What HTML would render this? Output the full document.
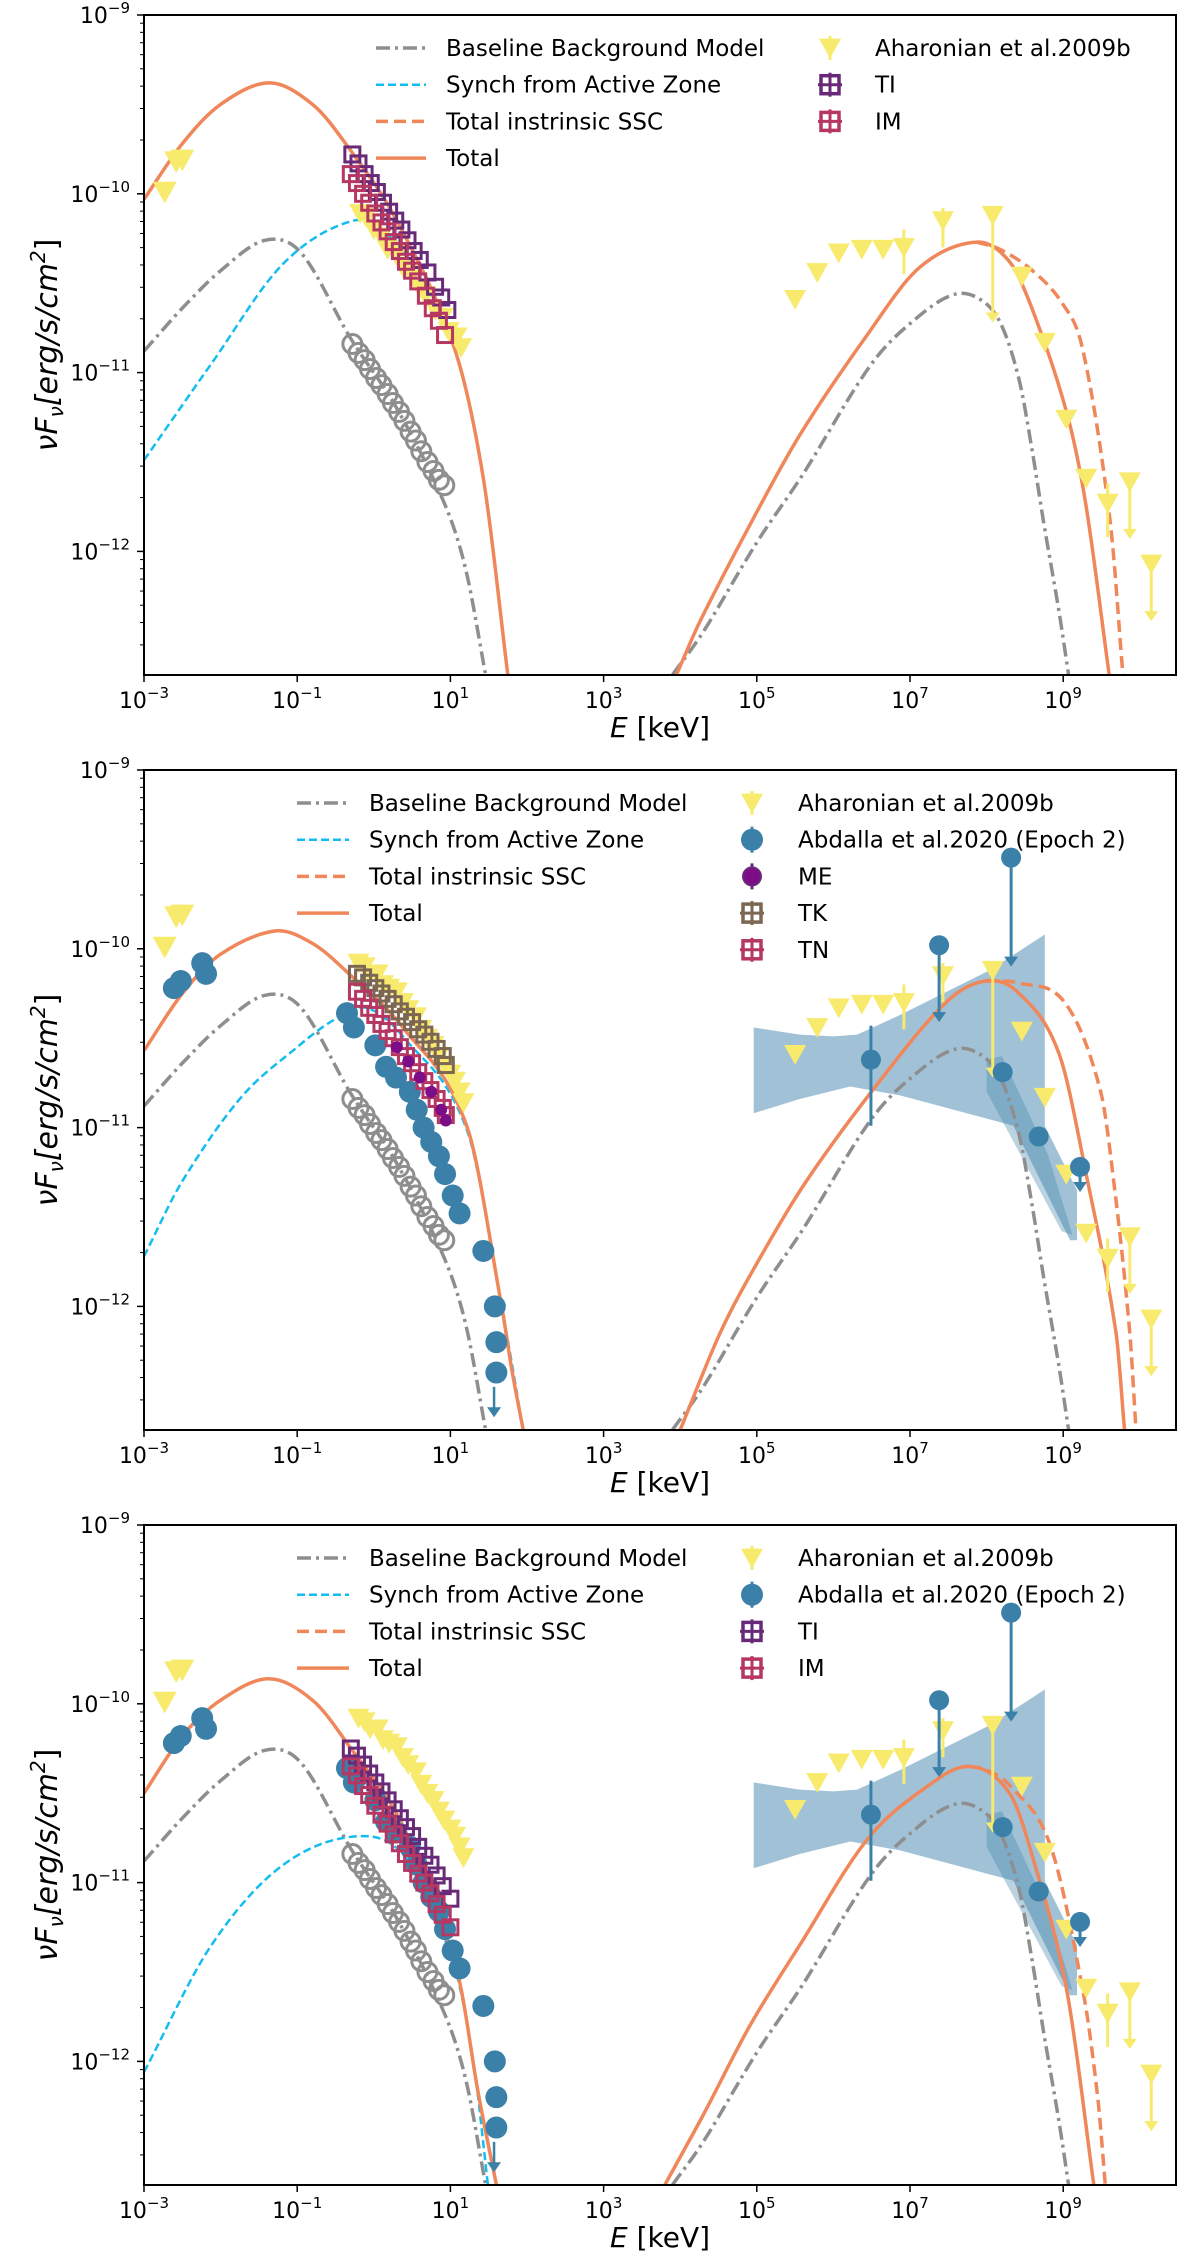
<!DOCTYPE html>
<html><head><meta charset="utf-8"><style>
html,body{margin:0;padding:0;background:#fff;}
svg{display:block;font-family:"DejaVu Sans","Liberation Sans",sans-serif;}
</style></head><body>
<svg id="chart" width="1200" height="2260" viewBox="0 0 1200 2260" xmlns="http://www.w3.org/2000/svg"></svg>
<script>
// ---------- data (log10 E [keV], log10 vFv) ----------
const grayE=[-3,-2.5,-2,-1.42,-0.95,-0.3,0.3,0.92,1.2,1.46];
const grayF=[-10.88,-10.64,-10.43,-10.26,-10.33,-10.81,-11.2,-11.73,-12.1,-12.69];
const grayGE=[3.9,4.3,5.0,5.6,6.5,7.1,7.6,7.95,8.2,8.43,8.6,8.75,8.95,9.07];
const grayGF=[-12.69,-12.45,-11.95,-11.57,-10.95,-10.69,-10.56,-10.6,-10.74,-11.05,-11.45,-11.85,-12.35,-12.69];

const p1TotE=[-3,-2.5,-2,-1.36,-0.8,-0.35,0.3,1.05,1.43,1.75];
const p1TotF=[-10.03,-9.72,-9.5,-9.38,-9.5,-9.73,-10.15,-10.86,-11.59,-12.69];
const p1CyE=[-3,-2.12,-1.18,-0.26,0.21,0.6,1.05,1.43,1.75];
const p1CyF=[-11.49,-10.95,-10.39,-10.15,-10.24,-10.45,-10.86,-11.59,-12.69];
const p1TgE=[3.95,4.26,4.9,5.56,6.44,7.13,7.87,8.3,8.6,9.05,9.3,9.6];
const p1TgF=[-12.69,-12.39,-11.86,-11.35,-10.79,-10.41,-10.27,-10.38,-10.65,-11.23,-11.75,-12.69];
const p1SsE=[7.87,8.17,8.6,9.0,9.26,9.61,9.78];
const p1SsF=[-10.27,-10.31,-10.43,-10.62,-10.88,-11.82,-12.69];

const p2TotE=[-3,-2.5,-2,-1.28,-0.8,-0.35,0.4,1.22,1.67,1.8,1.95];
const p2TotF=[-10.57,-10.25,-10.03,-9.9,-9.97,-10.13,-10.45,-11.0,-12.0,-12.35,-12.69];
const p2CyE=[-3,-2.5,-1.73,-1.0,-0.53,-0.1,0.4,1.22,1.67,1.95];
const p2CyF=[-11.72,-11.3,-10.83,-10.55,-10.4,-10.33,-10.5,-11.02,-12.0,-12.69];
const p2TgE=[4.0,4.52,5.0,5.63,6.55,7.47,7.98,8.4,8.94,9.31,9.69,9.8];
const p2TgF=[-12.69,-12.15,-11.76,-11.31,-10.77,-10.3,-10.18,-10.24,-10.58,-11.28,-12.15,-12.69];
const p2SsE=[7.98,8.4,9.02,9.49,9.69,9.87,9.95];
const p2SsF=[-10.18,-10.19,-10.3,-10.8,-11.41,-12.15,-12.69];

const p3TotE=[-3,-2.5,-2,-1.37,-0.8,-0.35,0.4,1.1,1.36,1.6];
const p3TotF=[-10.5,-10.18,-9.98,-9.86,-9.98,-10.22,-10.7,-11.52,-12.17,-12.69];
const p3CyE=[-3,-2.12,-1.18,-0.17,0.45,1.05,1.3,1.49];
const p3CyF=[-12.06,-11.35,-10.9,-10.74,-10.88,-11.47,-12.0,-12.69];
const p3TgE=[3.8,4.3,4.91,5.56,6.44,7.2,7.78,8.3,8.61,9.05,9.4];
const p3TgF=[-12.69,-12.3,-11.8,-11.35,-10.76,-10.47,-10.35,-10.5,-10.87,-11.61,-12.69];
const p3SsE=[7.78,8.0,8.31,8.83,9.26,9.45,9.55];
const p3SsF=[-10.35,-10.37,-10.46,-10.79,-11.61,-12.2,-12.69];

const yOptE=[-2.73,-2.58,-2.5];
const yOptF=[-9.99,-9.82,-9.81];
const yX1E=[-0.18,-0.1,0.0,0.1,0.18,0.3,0.38,0.5,0.6,0.68,0.8,0.9,0.98,1.08,1.14];
const yX1F=[-10.11,-10.13,-10.2,-10.24,-10.31,-10.34,-10.41,-10.45,-10.53,-10.57,-10.65,-10.69,-10.77,-10.8,-10.86];
const yX2E=[-0.2,-0.12,-0.05,0.05,0.12,0.2,0.3,0.38,0.45,0.55,0.62,0.7,0.78,0.85,0.92,1.0,1.06,1.12,1.17];
const yX2F=[-10.08,-10.1,-10.14,-10.14,-10.2,-10.22,-10.24,-10.3,-10.34,-10.38,-10.45,-10.5,-10.54,-10.6,-10.65,-10.7,-10.74,-10.8,-10.86];
const yGE=[5.5,5.79,6.07,6.37,6.65,6.92,7.43,8.08,8.46,8.76,9.04,9.3,9.58,9.87,10.15];
const yGF=[-10.59,-10.44,-10.33,-10.31,-10.31,-10.3,-10.15,-10.12,-10.46,-10.83,-11.26,-11.59,-11.73,-11.61,-12.07];
const yGLo=[null,null,null,null,null,-10.45,-10.3,-10.72,null,null,null,null,-11.92,-11.93,-12.39];
const yGHi=[null,null,null,null,null,-10.2,-10.08,null,null,null,null,null,-11.62,null,null];
const yGUl=[0,0,0,0,0,0,0,1,0,0,0,0,0,1,1];

const grayCE=[-0.28,-0.2,-0.12,-0.05,0.03,0.1,0.18,0.25,0.33,0.4,0.48,0.55,0.62,0.7,0.78,0.85,0.92];
const grayCF=[-10.84,-10.89,-10.93,-10.98,-11.03,-11.07,-11.12,-11.17,-11.22,-11.27,-11.33,-11.38,-11.44,-11.5,-11.55,-11.6,-11.63];

const p1TIE=[-0.28,-0.2,-0.12,-0.04,0.04,0.12,0.2,0.28,0.36,0.44,0.52,0.6,0.7,0.8,0.88,0.96];
const p1TIF=[-9.78,-9.83,-9.89,-9.94,-9.99,-10.05,-10.1,-10.15,-10.2,-10.26,-10.32,-10.37,-10.44,-10.52,-10.58,-10.65];
const p1IME=[-0.3,-0.22,-0.14,-0.06,0.02,0.1,0.18,0.26,0.34,0.42,0.5,0.58,0.68,0.77,0.85,0.93];
const p1IMF=[-9.89,-9.94,-10.0,-10.05,-10.11,-10.16,-10.21,-10.27,-10.32,-10.38,-10.43,-10.49,-10.57,-10.64,-10.71,-10.79];

const p2TKE=[-0.22,-0.14,-0.06,0.02,0.1,0.18,0.26,0.34,0.42,0.5,0.58,0.66,0.74,0.82,0.9,0.94];
const p2TKF=[-10.14,-10.16,-10.19,-10.22,-10.25,-10.28,-10.31,-10.35,-10.38,-10.41,-10.45,-10.48,-10.52,-10.56,-10.6,-10.65];
const p2TNE=[-0.22,-0.14,-0.06,0.02,0.1,0.18,0.26,0.34,0.42,0.5,0.58,0.66,0.74,0.82,0.9,0.94];
const p2TNF=[-10.24,-10.28,-10.33,-10.37,-10.42,-10.46,-10.5,-10.55,-10.6,-10.64,-10.69,-10.74,-10.79,-10.84,-10.89,-10.93];
const p2MEE=[0.3,0.45,0.6,0.75,0.88,0.94];
const p2MEF=[-10.55,-10.63,-10.72,-10.8,-10.9,-10.96];

const p3TIE=[-0.3,-0.22,-0.14,-0.06,0.02,0.1,0.18,0.26,0.34,0.42,0.5,0.58,0.66,0.74,0.82,0.9,1.0];
const p3TIF=[-10.25,-10.29,-10.34,-10.39,-10.44,-10.49,-10.54,-10.59,-10.64,-10.69,-10.74,-10.8,-10.85,-10.9,-10.96,-11.02,-11.09];
const p3IME=[-0.3,-0.22,-0.14,-0.06,0.02,0.1,0.18,0.26,0.34,0.42,0.5,0.58,0.66,0.74,0.82,0.9,1.0];
const p3IMF=[-10.35,-10.4,-10.46,-10.51,-10.57,-10.62,-10.67,-10.73,-10.78,-10.84,-10.89,-10.95,-11.0,-11.06,-11.12,-11.18,-11.25];

const bOptE=[-2.61,-2.52,-2.24,-2.19];
const bOptF=[-10.22,-10.18,-10.08,-10.14];
const bXE=[-0.35,-0.26,0.02,0.16,0.29,0.47,0.56,0.65,0.75,0.85,0.93,1.03,1.12,1.43,1.58,1.6,1.6];
const bXF=[-10.36,-10.44,-10.54,-10.66,-10.72,-10.8,-10.9,-11.0,-11.08,-11.16,-11.26,-11.38,-11.48,-11.69,-12.0,-12.2,-12.37];
const bGE=[6.49,7.38,8.32,8.21,8.68,9.22];
const bGF=[-10.62,-9.98,-9.49,-10.69,-11.05,-11.22];
const bGLo=[-10.99,-10.41,-10.1,null,null,-11.36];
const bGHi=[-10.43,null,null,null,null,null];
const bGUl=[0,1,1,0,0,1];
const bandE=[4.96,5.56,6.0,6.31,6.87,8.04,8.76,8.76,9.18,9.18,9.09,8.35,6.87,6.22,5.56,4.96];
const bandF=[-10.44,-10.48,-10.49,-10.48,-10.37,-10.12,-9.92,-10.99,-11.35,-11.63,-11.63,-10.99,-10.82,-10.77,-10.84,-10.92];
const bandDkE=[8.0,8.2,8.8,9.12,8.98,8.0];
const bandDkF=[-10.62,-10.6,-11.15,-11.6,-11.58,-10.8];

const xTicks=[-3,-1,1,3,5,7,9];
const yTicks=[-9,-10,-11,-12];

// ---------- geometry ----------
const L=144,R=1176,H=660,DX=76.6,DY=178.8;
const tops=[15,770,1525];
const NS="http://www.w3.org/2000/svg";
const svg=document.getElementById('chart');
const X=e=>L+(e+3)*DX;
function mk(tag,attrs,parent){const el=document.createElementNS(NS,tag);for(const k in attrs)el.setAttribute(k,attrs[k]);(parent||svg).appendChild(el);return el;}
const C={orange:'#f0875a',cyan:'#14bdf0',gray:'#8e8e8e',yellow:'#f8ea6c',blue:'#3b80a8',ti:'#682a78',im:'#b53762',tk:'#7b6753',me:'#7c0c88'};

function curvePath(E,F,Y){
  const p=E.map((e,i)=>[X(e),Y(F[i])]);
  const n=p.length,m=[];
  for(let i=0;i<n;i++){
    const a=p[Math.max(0,i-1)],b=p[Math.min(n-1,i+1)];
    m.push((b[1]-a[1])/(b[0]-a[0]));
  }
  let d='M'+p[0][0].toFixed(1)+','+p[0][1].toFixed(1);
  for(let i=0;i<n-1;i++){
    const h=p[i+1][0]-p[i][0];
    const c1=[p[i][0]+h/3,p[i][1]+m[i]*h/3];
    const c2=[p[i+1][0]-h/3,p[i+1][1]-m[i+1]*h/3];
    d+='C'+c1[0].toFixed(1)+','+c1[1].toFixed(1)+' '+c2[0].toFixed(1)+','+c2[1].toFixed(1)+' '+p[i+1][0].toFixed(1)+','+p[i+1][1].toFixed(1);
  }
  return d;
}
function drawCurve(g,E,F,Y,color,w,dash,name){
  const el=mk('path',{d:curvePath(E,F,Y),fill:'none',stroke:color,'stroke-width':w,'stroke-dasharray':dash||'none'},g);
  
  
}
function tri(g,x,y,color,s,name){
  const el=mk('polygon',{points:(x-s)+','+(y-s*0.85)+' '+(x+s)+','+(y-s*0.85)+' '+x+','+(y+s*0.95),fill:color},g);
  
  
}
function dot(g,x,y,r,fill,stroke,sw,name){
  const el=mk('circle',{cx:x,cy:y,r:r,fill:fill,stroke:stroke||'none','stroke-width':sw||0},g);
  
  
}
function sq(g,x,y,color,name){
  const el=mk('rect',{x:x-7.5,y:y-7.5,width:15,height:15,fill:'none',stroke:color,'stroke-width':3},g);
  
  
}
function vline(g,x,y1,y2,color,w,name){
  const el=mk('line',{x1:x,y1:y1,x2:x,y2:y2,stroke:color,'stroke-width':w},g);
  
  
}
function arrowHead(g,x,y,color,name){
  const el=mk('polygon',{points:(x-7)+','+(y-10)+' '+(x+7)+','+(y-10)+' '+x+','+y,fill:color},g);
  
  
}

function drawPanel(pi){
  const top=tops[pi],bot=top+H;
  const Y=f=>top+(-9-f)*DY;
  const g=mk('g',{});
  
  
  const cp=mk('clipPath',{id:'clip'+pi},g);
  mk('rect',{x:L,y:top,width:R-L,height:H},cp);
  const pg=mk('g',{'clip-path':'url(#clip'+pi+')'},g);
  
  

  if(pi>0){
    const bp=bandE.map((e,i)=>X(e).toFixed(1)+','+Y(bandF[i]).toFixed(1)).join(' ');
    const band=mk('polygon',{points:bp,fill:'#a1c2d6'},pg);
    
    
    const dp=bandDkE.map((e,i)=>X(e).toFixed(1)+','+Y(bandDkF[i]).toFixed(1)).join(' ');
    const dk=mk('polygon',{points:dp,fill:'#3b80a8','fill-opacity':0.35},pg);
    
    
  }
  const sets=[[p1TotE,p1TotF,p1CyE,p1CyF,p1TgE,p1TgF,p1SsE,p1SsF],[p2TotE,p2TotF,p2CyE,p2CyF,p2TgE,p2TgF,p2SsE,p2SsF],[p3TotE,p3TotF,p3CyE,p3CyF,p3TgE,p3TgF,p3SsE,p3SsF]][pi];
  drawCurve(pg,grayE,grayF,Y,C.gray,3.5,'14,5,3,5','baseline-synch-curve');
  drawCurve(pg,grayGE,grayGF,Y,C.gray,3.5,'14,5,3,5','baseline-ic-curve');
  drawCurve(pg,sets[2],sets[3],Y,C.cyan,2.5,'8,4','active-zone-synch-curve');
  drawCurve(pg,sets[6],sets[7],Y,C.orange,3.5,'12,6','intrinsic-ssc-curve');
  drawCurve(pg,sets[0],sets[1],Y,C.orange,3.5,null,'total-synch-curve');
  drawCurve(pg,sets[4],sets[5],Y,C.orange,3.5,null,'total-ic-curve');

  grayCE.forEach((e,i)=>dot(pg,X(e),Y(grayCF[i]),9.5,'none',C.gray,3,'baseline-xray-point'));
  if(pi>0){
    bOptE.forEach((e,i)=>dot(pg,X(e),Y(bOptF[i]),11,C.blue,null,0,'abdalla-optical-point'));
    bXE.forEach((e,i)=>dot(pg,X(e),Y(bXF[i]),11,C.blue,null,0,'abdalla-xray-point'));
    const ulx=X(1.57);
    vline(pg,ulx,Y(-12.45),Y(-12.6),C.blue,2.5,'abdalla-xray-upper-limit');
    arrowHead(pg,ulx,Y(-12.62),C.blue,'abdalla-xray-arrow');
  }
  yOptE.forEach((e,i)=>tri(pg,X(e),Y(yOptF[i]),C.yellow,12,'aharonian-optical-point'));
  const yx=pi===0?[yX1E,yX1F]:[yX2E,yX2F];
  yx[0].forEach((e,i)=>tri(pg,X(e),Y(yx[1][i]),C.yellow,11,'aharonian-xray-point'));
  const sqs=[[[p1TIE,p1TIF,C.ti,'ti-point'],[p1IME,p1IMF,C.im,'im-point']],
             [[p2TKE,p2TKF,C.tk,'tk-point'],[p2TNE,p2TNF,C.im,'tn-point']],
             [[p3TIE,p3TIF,C.ti,'ti-point'],[p3IME,p3IMF,C.im,'im-point']]][pi];
  sqs.forEach(s=>s[0].forEach((e,i)=>sq(pg,X(e),Y(s[1][i]),s[2],s[3])));
  if(pi===1){
    p2MEE.forEach((e,i)=>dot(pg,X(e),Y(p2MEF[i]),6,C.me,null,0,'me-point'));
  }
  yGE.forEach((e,i)=>{
    const x=X(e);
    if(yGHi[i]!==null)vline(pg,x,Y(yGHi[i]),Y(yGF[i]),C.yellow,3,'aharonian-gamma-errorbar');
    if(yGLo[i]!==null){
      vline(pg,x,Y(yGF[i]),Y(yGLo[i])-(yGUl[i]?8:0),C.yellow,3,'aharonian-gamma-errorbar');
      if(yGUl[i])arrowHead(pg,x,Y(yGLo[i]),C.yellow,'aharonian-gamma-arrow');
    }
    tri(pg,x,Y(yGF[i]),C.yellow,11,'aharonian-gamma-point');
  });
  if(pi>0){
    bGE.forEach((e,i)=>{
      const x=X(e);
      if(bGHi[i]!==null)vline(pg,x,Y(bGHi[i]),Y(bGF[i]),C.blue,3,'abdalla-gamma-errorbar');
      if(bGLo[i]!==null){
        vline(pg,x,Y(bGF[i]),Y(bGLo[i])-(bGUl[i]?8:0),C.blue,3,'abdalla-gamma-errorbar');
        if(bGUl[i])arrowHead(pg,x,Y(bGLo[i]),C.blue,'abdalla-gamma-arrow');
      }
      dot(pg,x,Y(bGF[i]),10,C.blue,null,0,'abdalla-gamma-point');
    });
  }

  const fr=mk('rect',{x:L,y:top,width:R-L,height:H,fill:'none',stroke:'#000','stroke-width':2},g);
  
  
  xTicks.forEach(t=>{
    const x=X(t);
    const tk=mk('line',{x1:x,y1:bot,x2:x,y2:bot+7,stroke:'#000','stroke-width':1.5},g);
    
    
    const tx=mk('text',{x:x,y:bot+33,'font-size':22,'text-anchor':'middle',fill:'#000'},g);
    
    
    tx.appendChild(document.createTextNode('10'));
    const s=mk('tspan',{dy:-10,'font-size':15},tx);
    s.textContent=String(t).replace('-','\u2212');
  });
  yTicks.forEach(t=>{
    const y=Y(t);
    const tk=mk('line',{x1:L-7,y1:y,x2:L,y2:y,stroke:'#000','stroke-width':1.5},g);
    
    
    const tx=mk('text',{x:L-14,y:y+8,'font-size':22,'text-anchor':'end',fill:'#000'},g);
    
    
    tx.appendChild(document.createTextNode('10'));
    const s=mk('tspan',{dy:-10,'font-size':15},tx);
    s.textContent=String(t).replace('-','\u2212');
    for(let k=2;k<=9;k++){
      const yy=Y(t-1+Math.log10(k));
      if(yy<=bot&&yy>=top){
        const m=mk('line',{x1:L-4,y1:yy,x2:L,y2:yy,stroke:'#000','stroke-width':1},g);
        
        
      }
    }
  });
  const yl=mk('text',{x:0,y:0,'font-size':30,'text-anchor':'middle',transform:'translate(57,'+(top+330)+') rotate(-90)',fill:'#000'},g);
  
  
  yl.innerHTML='<tspan font-style="italic">νF</tspan><tspan font-style="italic" font-size="20" dy="6">ν</tspan><tspan dy="-6" font-style="italic">[erg/s/cm</tspan><tspan font-size="20" dy="-12" font-style="italic">2</tspan><tspan dy="12">]</tspan>';
  const xl=mk('text',{x:660,y:bot+62,'font-size':28,'text-anchor':'middle',fill:'#000'},g);
  
  
  xl.innerHTML='<tspan font-style="italic">E</tspan> [keV]';

  const lg=mk('g',{},g);
  
  
  const hx=pi===0?[376,426,446]:[297,349,369];
  const rx=pi===0?[830,875]:[752,798];
  const ry=i=>top+33+i*36.7;
  const lines=[['Baseline Background Model',C.gray,'14,5,3,5',3.5],['Synch from Active Zone',C.cyan,'8,4',2.5],['Total instrinsic SSC',C.orange,'12,6',3.5],['Total',C.orange,'none',3.5]];
  lines.forEach((l,i)=>{
    const ln=mk('line',{x1:hx[0],y1:ry(i),x2:hx[1],y2:ry(i),stroke:l[1],'stroke-width':l[3],'stroke-dasharray':l[2]},lg);
    
    
    const t=mk('text',{x:hx[2],y:ry(i)+8,'font-size':23,fill:'#000'},lg);
    
    
    t.textContent=l[0];
  });
  const right=pi===0?[['Aharonian et al.2009b','tri',C.yellow],['TI','sq',C.ti],['IM','sq',C.im]]:
    pi===1?[['Aharonian et al.2009b','tri',C.yellow],['Abdalla et al.2020 (Epoch 2)','dot',C.blue],['ME','me',C.me],['TK','sq',C.tk],['TN','sq',C.im]]:
    [['Aharonian et al.2009b','tri',C.yellow],['Abdalla et al.2020 (Epoch 2)','dot',C.blue],['TI','sq',C.ti],['IM','sq',C.im]];
  right.forEach((r,i)=>{
    const y=ry(i),x=rx[0];
    if(r[1]==='tri'){vline(lg,x,y-12,y+12,r[2],3,'legend-errorbar');tri(lg,x,y,r[2],11,'legend-marker');}
    else if(r[1]==='dot'){vline(lg,x,y-13,y+13,r[2],3,'legend-errorbar');dot(lg,x,y,11,r[2],null,0,'legend-marker');}
    else if(r[1]==='me'){vline(lg,x,y-13,y+13,'#6a2a78',3,'legend-errorbar');dot(lg,x,y,9,r[2],'#6a2a78',2,'legend-marker');}
    else{
      const rc=mk('rect',{x:x-9,y:y-9,width:18,height:18,fill:'none',stroke:r[2],'stroke-width':3.5},lg);
      
      
      vline(lg,x,y-12,y+12,r[2],3,'legend-errorbar');
      const h=mk('line',{x1:x-12,y1:y,x2:x+12,y2:y,stroke:r[2],'stroke-width':3},lg);
      
      
    }
    const t=mk('text',{x:rx[1],y:y+8,'font-size':23,fill:'#000'},lg);
    
    
    t.textContent=r[0];
  });
}
[0,1,2].forEach(drawPanel);
</script>
</body></html>
